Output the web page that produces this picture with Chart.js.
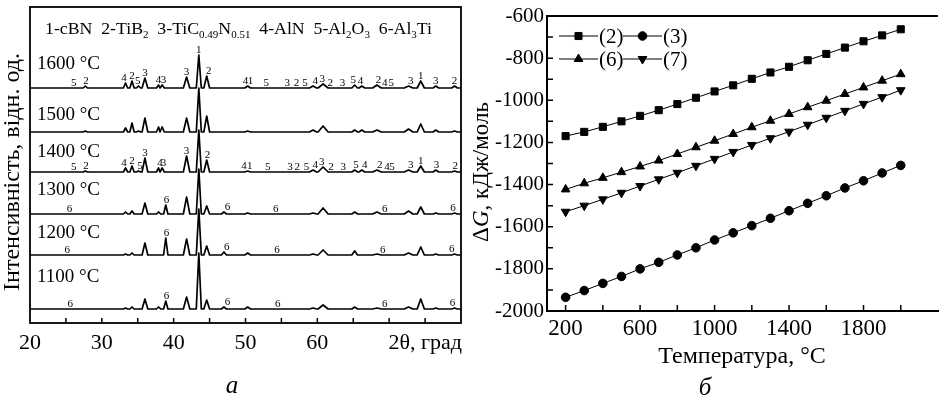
<!DOCTYPE html>
<html>
<head>
<meta charset="utf-8">
<script src="https://cdn.jsdelivr.net/npm/chart.js@4.4.0/dist/chart.umd.min.js"></script>
<style>
  body { margin: 0; background: #fff; width: 944px; height: 400px; overflow: hidden; position: relative; }
  #panelA { position: absolute; left: 0; top: 0; }
  #panelB { position: absolute; left: 470px; top: 0; }
</style>
</head>
<body>
<canvas id="panelA" width="470" height="400"></canvas>
<canvas id="panelB" width="474" height="400"></canvas>
<script>
const SERIF = '"Liberation Serif", "DejaVu Serif", serif';
Chart.defaults.font.family = SERIF;
Chart.defaults.color = '#000';

// ---- panel а: XRD patterns ----
const twoTheta = [27.7, 33.3, 34.2, 35.1, 36.0, 37.9, 38.4, 38.9, 41.8, 43.5, 44.6, 47.0,
                  50.3, 59.4, 60.8, 65.2, 66.2, 68.3, 72.7, 74.4, 76.5, 79.1];
const tempLabels = ['1600 °C', '1500 °C', '1400 °C', '1300 °C', '1200 °C', '1100 °C'];
const int1600 = [2, 5, 7, 2, 10, 3, 3, 0, 11, 33, 12, 0, 2, 2, 4, 3, 2, 3, 2, 7, 2, 2];
const int1500 = [1, 4, 9, 1, 14, 5, 5, 0, 14, 44, 16, 0, 1, 2, 6, 2, 2, 2, 3, 8, 2, 1];
const int1400 = [1, 4, 6, 1, 14, 4, 4, 0, 16, 42, 12, 0, 1, 2, 5, 2, 2, 2, 2, 6, 2, 1];
const int1300 = [0, 2, 3, 0, 11, 2, 0, 9, 17, 45, 8, 2, 1, 1, 6, 2, 0, 2, 3, 7, 1, 1];
const int1200 = [0, 1, 2, 0, 12, 0, 0, 17, 16, 46, 9, 3, 2, 1, 5, 4, 0, 1, 2, 8, 1, 1];
const int1100 = [0, 1, 2, 0, 10, 2, 0, 8, 12, 56, 9, 2, 2, 1, 4, 2, 0, 1, 2, 10, 1, 1];

const phases1600 = [[26.1,'5'],[27.8,'2'],[33.1,'4'],[34.2,'2'],[35.0,'5'],[36.0,'3'],[37.9,'4'],[38.6,'3'],
  [41.8,'3'],[43.5,'1'],[44.9,'2'],[50.0,'4'],[50.7,'1'],[52.9,'5'],[55.8,'3'],[57.1,'2'],[58.3,'5'],
  [59.7,'4'],[60.7,'3'],[61.8,'2'],[63.5,'3'],[65.0,'5'],[66.0,'4'],[68.5,'2'],[69.4,'4'],[70.3,'5'],
  [73.0,'3'],[74.4,'1'],[76.5,'3'],[79.1,'2']];
const phases1400 = [[26.1,'5'],[27.8,'2'],[33.1,'4'],[34.2,'2'],[35.3,'5'],[36.0,'3'],[38.1,'4'],[38.6,'3'],
  [41.8,'3'],[44.7,'2'],[49.8,'4'],[50.6,'1'],[53.1,'5'],[56.2,'3'],[57.2,'2'],[58.5,'5'],
  [59.7,'4'],[60.6,'3'],[61.9,'2'],[63.6,'3'],[65.4,'5'],[66.6,'4'],[68.7,'2'],[69.7,'4'],[70.4,'5'],
  [73.0,'3'],[74.4,'1'],[76.6,'3'],[79.2,'2']];
const phases1300 = [[25.5,'6'],[39.0,'6'],[47.5,'6'],[54.2,'6'],[69.4,'6'],[78.9,'6']];
const phases1200 = [[25.2,'6'],[39.0,'6'],[47.4,'6'],[54.4,'6'],[69.1,'6'],[78.7,'6']];
const phases1100 = [[25.6,'6'],[39.0,'6'],[47.5,'6'],[54.5,'6'],[69.4,'6'],[78.8,'6']];

const patterns = [int1600, int1500, int1400, int1300, int1200, int1100];
const phaseMarks = [phases1600, [], phases1400, phases1300, phases1200, phases1100];

// layout of panel а (y axis in pixel-like units, 0 = bottom of frame)
const traceBase = [235, 191, 151, 109, 68, 14];
const tempLabelY = [259, 208, 171, 133, 90, 46];
const peakHalfWidth = [0.3, 0.3, 0.3, 0.3, 0.4, 0.3, 0.3, 0.3, 0.45, 0.35, 0.4, 0.35,
                       0.4, 0.5, 0.7, 0.4, 0.4, 0.6, 0.6, 0.5, 0.4, 0.4];

function patternPoints(heights, base) {
  const pts = [{x: 20, y: base}, {x: 80, y: base}];
  twoTheta.forEach((p, i) => {
    if (!heights[i]) return;
    const w = peakHalfWidth[i];
    pts.push({x: p - w, y: base}, {x: p, y: base + heights[i]}, {x: p + w, y: base});
  });
  return pts.sort((a, b) => a.x - b.x);
}

function heightNear(heights, x) {
  let h = 0;
  twoTheta.forEach((p, i) => {
    if (Math.abs(p - x) <= peakHalfWidth[i] + 0.15) h = Math.max(h, heights[i]);
  });
  return h;
}

const innerTicks = {
  id: 'innerTicks',
  afterDraw(chart, args, opts) {
    const {ctx, chartArea: a, scales} = chart;
    ctx.save();
    ctx.strokeStyle = '#000';
    ctx.lineWidth = opts.width;
    ctx.beginPath();
    opts.x.forEach(v => {
      const px = scales.x.getPixelForValue(v);
      ctx.moveTo(px, a.bottom); ctx.lineTo(px, a.bottom - opts.len);
    });
    (opts.y || []).forEach(v => {
      const py = scales.y.getPixelForValue(v);
      ctx.moveTo(a.left, py); ctx.lineTo(a.left + opts.len, py);
    });
    ctx.stroke();
    ctx.restore();
  }
};

const xrdDecor = {
  id: 'xrdDecor',
  afterDatasetsDraw(chart) {
    const {ctx, chartArea: a, scales: {x, y}} = chart;
    ctx.save();
    // frame
    ctx.strokeStyle = '#000';
    ctx.lineWidth = 1.8;
    ctx.strokeRect(a.left, a.top, a.right - a.left, a.bottom - a.top);

    // phase numbers above peaks
    ctx.fillStyle = '#000';
    ctx.textAlign = 'center';
    ctx.textBaseline = 'alphabetic';
    ctx.font = '11px ' + SERIF;
    phaseMarks.forEach((marks, t) => {
      marks.forEach(([pos, txt]) => {
        const h = heightNear(patterns[t], pos);
        ctx.fillText(txt, x.getPixelForValue(pos), y.getPixelForValue(traceBase[t] + h) - 2);
      });
    });

    // temperature labels
    ctx.textAlign = 'left';
    ctx.textBaseline = 'middle';
    ctx.font = '19px ' + SERIF;
    tempLabels.forEach((txt, t) => ctx.fillText(txt, a.left + 7, y.getPixelForValue(tempLabelY[t])));

    // phase legend with subscripts
    const parts = [['1-cBN  2-TiB', 0], ['2', 1], ['  3-TiC', 0], ['0.49', 1], ['N', 0], ['0.51', 1],
                   ['  4-AlN  5-Al', 0], ['2', 1], ['O', 0], ['3', 1], ['  6-Al', 0], ['3', 1], ['Ti', 0]];
    const measure = (s) => {
      let w = 0;
      parts.forEach(([t, sub]) => { ctx.font = (sub ? s * 0.62 : s) + 'px ' + SERIF; w += ctx.measureText(t).width; });
      return w;
    };
    const size = 16 * 387 / measure(16);
    let cx = 45;
    ctx.textBaseline = 'alphabetic';
    parts.forEach(([t, sub]) => {
      ctx.font = (sub ? size * 0.62 : size) + 'px ' + SERIF;
      ctx.fillText(t, cx, sub ? 38 : 34);
      cx += ctx.measureText(t).width;
    });

    // axis titles
    ctx.font = '22px ' + SERIF;
    ctx.textAlign = 'right';
    ctx.textBaseline = 'middle';
    ctx.fillText('2θ, град', a.right + 1, 343);
    ctx.textAlign = 'center';
    ctx.font = 'italic 25px ' + SERIF;
    ctx.fillText('а', 232, 386);

    ctx.font = '24px ' + SERIF;
    ctx.translate(13, 172);
    ctx.rotate(-Math.PI / 2);
    ctx.fillText('Інтенсивність, відн. од.', 0, 0);
    ctx.restore();
  }
};

new Chart(document.getElementById('panelA'), {
  type: 'line',
  data: {
    datasets: patterns.map((h, t) => ({
      label: tempLabels[t],
      data: patternPoints(h, traceBase[t]),
      borderColor: '#000',
      borderWidth: 1.7,
      pointRadius: 0,
      tension: 0,
      borderJoinStyle: 'round'
    }))
  },
  options: {
    responsive: false,
    animation: false,
    layout: { padding: { left: 30, top: 7, right: 9, bottom: 0 } },
    plugins: {
      legend: { display: false },
      tooltip: { enabled: false },
      innerTicks: { x: [25, 30, 35, 40, 45, 50, 55, 60, 65, 70, 75], len: 5, width: 1.5 }
    },
    scales: {
      x: {
        type: 'linear', min: 20, max: 80,
        afterFit: s => { s.height = 77; },
        grid: { display: false, drawTicks: false },
        border: { display: false },
        ticks: { stepSize: 10, padding: 7, font: { size: 22 }, color: '#000',
                 callback: v => (v <= 60 ? String(v) : '') }
      },
      y: { min: 0, max: 316, display: false }
    }
  },
  plugins: [innerTicks, xrdDecor]
});

// ---- panel б: Gibbs energy vs temperature ----
const temperature = [200, 300, 400, 500, 600, 700, 800, 900, 1000, 1100, 1200, 1300, 1400, 1500,
                     1600, 1700, 1800, 1900, 2000];
const dG2 = [-1170, -1150, -1126, -1100, -1074, -1047, -1018, -988, -958, -929, -898, -868, -841,
             -810, -780, -750, -720, -692, -663];
const dG3 = [-1935, -1903, -1869, -1836, -1800, -1769, -1734, -1700, -1663, -1629, -1595, -1560,
             -1524, -1489, -1453, -1416, -1382, -1345, -1309];
const dG6 = [-1423, -1394, -1368, -1341, -1314, -1286, -1255, -1223, -1192, -1160, -1128, -1097,
             -1065, -1033, -1002, -970, -939, -907, -876];
const dG7 = [-1529, -1500, -1470, -1439, -1407, -1375, -1344, -1311, -1278, -1245, -1212, -1180,
             -1149, -1116, -1083, -1050, -1017, -985, -952];
const seriesNames = ['(2)', '(3)', '(6)', '(7)'];
const xTickLabels = [200, 600, 1000, 1400, 1800];
const yTickLabels = [-600, -800, -1000, -1200, -1400, -1600, -1800, -2000];

const markers = [
  { pointStyle: 'rect', radius: 5, rotation: 0 },
  { pointStyle: 'circle', radius: 4.3, rotation: 0 },
  { pointStyle: 'triangle', radius: 5, rotation: 0 },
  { pointStyle: 'triangle', radius: 5, rotation: 180 }
];

const gibbsDecor = {
  id: 'gibbsDecor',
  afterDraw(chart) {
    const {ctx, chartArea: a} = chart;
    ctx.save();
    ctx.strokeStyle = '#000';
    ctx.fillStyle = '#000';
    ctx.lineWidth = 2;
    ctx.beginPath();
    ctx.moveTo(a.left, a.top); ctx.lineTo(a.right, a.top);
    ctx.stroke();

    // legend, two rows
    const rows = [[0, 1], [2, 3]];
    const rowY = [36, 59];
    ctx.font = '21px ' + SERIF;
    ctx.textBaseline = 'middle';
    ctx.textAlign = 'left';
    rows.forEach((r, ri) => {
      const yy = rowY[ri];
      const starts = [89, 153];
      r.forEach((si, k) => {
        const x0 = starts[k], x1 = x0 + 39;
        ctx.lineWidth = 1;
        ctx.beginPath(); ctx.moveTo(x0, yy); ctx.lineTo(x1, yy); ctx.stroke();
        const m = markers[si];
        Chart.helpers.drawPoint(ctx, { pointStyle: m.pointStyle, radius: m.radius, rotation: m.rotation, borderWidth: 1 },
          (x0 + x1) / 2, yy);
        ctx.fillText(seriesNames[si], x1 + 1, yy + 1);
      });
    });

    // axis titles
    ctx.textAlign = 'center';
    ctx.font = '24px ' + SERIF;
    ctx.fillText('Температура, °C', 742 - 470, 357);
    ctx.font = 'italic 25px ' + SERIF;
    ctx.fillText('б', 705 - 470, 388);

    ctx.translate(482 - 470, 172);
    ctx.rotate(-Math.PI / 2);
    const size = 23;
    const p1 = 'Δ', p2 = 'G', p3 = ', кДж/моль';
    ctx.font = size + 'px ' + SERIF; const w1 = ctx.measureText(p1).width, w3 = ctx.measureText(p3).width;
    ctx.font = 'italic ' + size + 'px ' + SERIF; const w2 = ctx.measureText(p2).width;
    let cx = -(w1 + w2 + w3) / 2;
    ctx.textAlign = 'left';
    ctx.font = size + 'px ' + SERIF; ctx.fillText(p1, cx, 0); cx += w1;
    ctx.font = 'italic ' + size + 'px ' + SERIF; ctx.fillText(p2, cx, 0); cx += w2;
    ctx.font = size + 'px ' + SERIF; ctx.fillText(p3, cx, 0);
    ctx.restore();
  }
};

const seriesValues = [dG2, dG3, dG6, dG7];
new Chart(document.getElementById('panelB'), {
  type: 'line',
  data: {
    datasets: seriesValues.map((vals, i) => ({
      label: seriesNames[i],
      data: temperature.map((t, k) => ({ x: t, y: vals[k] })),
      borderColor: '#000',
      borderWidth: 1,
      pointStyle: markers[i].pointStyle,
      pointRadius: markers[i].radius,
      pointRotation: markers[i].rotation,
      pointBackgroundColor: '#000',
      pointBorderColor: '#000',
      pointBorderWidth: 1,
      tension: 0
    }))
  },
  options: {
    responsive: false,
    animation: false,
    clip: false,
    layout: { padding: { left: 0, top: 16, right: 0, bottom: 0 } },
    plugins: {
      legend: { display: false },
      tooltip: { enabled: false },
      innerTicks: {
        x: [200, 400, 600, 800, 1000, 1200, 1400, 1600, 1800, 2000],
        y: [-1900, -1800, -1700, -1600, -1500, -1400, -1300, -1200, -1100, -1000, -900, -800, -700],
        len: 6, width: 1.5
      }
    },
    scales: {
      x: {
        type: 'linear', min: 100, max: 2200,
        afterBuildTicks: s => { s.ticks = xTickLabels.map(v => ({ value: v })); },
        afterFit: s => { s.height = 89; },
        grid: { display: false, drawTicks: false },
        border: { display: true, color: '#000', width: 2 },
        ticks: { padding: 4, font: { size: 23 }, color: '#000', maxRotation: 0, callback: v => String(v) }
      },
      y: {
        min: -2000, max: -600,
        afterBuildTicks: s => { s.ticks = yTickLabels.map(v => ({ value: v })); },
        afterFit: s => { s.width = 77; },
        grid: { display: false, drawTicks: false },
        border: { display: true, color: '#000', width: 2 },
        ticks: { padding: 3, font: { size: 21 }, color: '#000', callback: v => String(v) }
      }
    }
  },
  plugins: [innerTicks, gibbsDecor]
});
</script>
</body>
</html>
